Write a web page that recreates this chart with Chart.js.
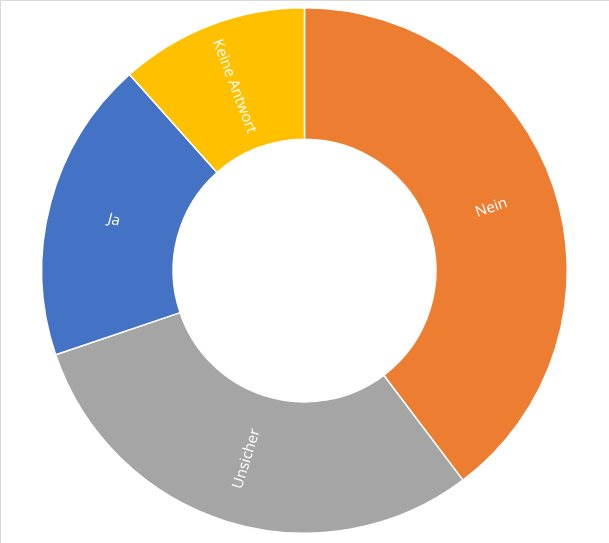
<!DOCTYPE html>
<html>
<head>
<meta charset="utf-8">
<script src="https://cdn.jsdelivr.net/npm/chart.js@4/dist/chart.umd.min.js"></script>
<style>
    html, body { margin: 0; padding: 0; background: #fff; }
    #wrap { position: relative; width: 609px; height: 543px; }
</style>
</head>
<body>
<div id="wrap"><canvas id="donut"></canvas></div>
<script>
// answers, clockwise from the top
const categories = ["Nein", "Unsicher", "Ja", "Keine Antwort"];
const shares = [39.7, 30.1, 18.6, 11.6];
const colors = ["#ED7D31", "#A5A5A5", "#4472C4", "#FFC000"];

// light frame like the excel chart area (only top and left show)
const framePlugin = {
    id: "frame",
    beforeDraw(chart) {
        const ctx = chart.ctx;
        ctx.save();
        ctx.strokeStyle = "#D9D9D9";
        ctx.lineWidth = 1;
        ctx.beginPath();
        ctx.moveTo(0.5, chart.height);
        ctx.lineTo(0.5, 0.5);
        ctx.lineTo(chart.width, 0.5);
        ctx.stroke();
        ctx.restore();
    }
};

// category names inside the ring, turned along the radius
const radialLabels = {
    id: "radialLabels",
    afterDatasetsDraw(chart) {
        const ctx = chart.ctx;
        const arcs = chart.getDatasetMeta(0).data;
        ctx.save();
        ctx.fillStyle = "#FFFFFF";
        ctx.font = "15px 'Open Sans'";
        ctx.textAlign = "center";
        ctx.textBaseline = "middle";
        arcs.forEach((arc, i) => {
            const p = arc.getCenterPoint();
            const mid = (arc.startAngle + arc.endAngle) / 2;
            let theta = mid + Math.PI / 2; // clockwise from 12 o'clock
            theta = ((theta % (2 * Math.PI)) + 2 * Math.PI) % (2 * Math.PI);
            const rot = theta <= Math.PI ? theta - Math.PI / 2 : theta - 3 * Math.PI / 2;
            ctx.save();
            ctx.translate(p.x, p.y);
            ctx.rotate(rot);
            ctx.fillText(categories[i], 0, 0);
            ctx.restore();
        });
        ctx.restore();
    }
};

new Chart(document.getElementById("donut"), {
    type: "doughnut",
    data: {
        labels: categories,
        datasets: [{
            data: shares,
            backgroundColor: colors,
            borderColor: "#FFFFFF",
            borderWidth: 1.5,
            hoverOffset: 0
        }]
    },
    options: {
        responsive: true,
        maintainAspectRatio: false,
        animation: false,
        cutout: "50%",
        layout: { padding: { top: 7, bottom: 9, left: 0, right: 0 } },
        plugins: {
            legend: { display: false },
            tooltip: { enabled: false }
        }
    },
    plugins: [framePlugin, radialLabels]
});
</script>
</body>
</html>
